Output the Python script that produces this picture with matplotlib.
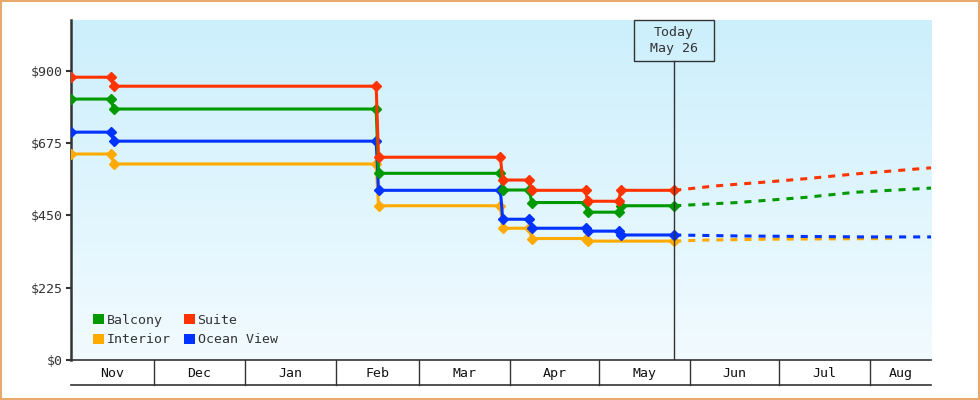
import matplotlib
matplotlib.use("Agg")
import matplotlib.pyplot as plt
import matplotlib.dates as mdates
import matplotlib.transforms as mtransforms
from matplotlib.patches import Rectangle, Patch
import numpy as np
import pandas as pd

# ---------------- data ----------------
hist_dates = ["2024-11-03 00:00", "2024-11-16 15:00", "2024-11-17 10:00",
              "2025-02-14 12:00", "2025-02-15 07:00",
              "2025-03-28 15:00", "2025-03-29 10:00",
              "2025-04-07 11:00", "2025-04-08 06:00",
              "2025-04-26 12:00", "2025-04-27 05:00",
              "2025-05-07 17:00", "2025-05-08 12:00",
              "2025-05-26 14:00"]
balcony = [812, 812, 781, 781, 581, 581, 529, 529, 490, 490, 460, 460, 480, 480]
suite = [880, 880, 852, 852, 631, 631, 560, 560, 528, 528, 494, 494, 528, 528]
ocean = [709, 709, 681, 681, 528, 528, 438, 438, 410, 410, 401, 401, 389, 389]
interior_dates = ["2024-11-03 00:00", "2024-11-16 15:00", "2024-11-17 10:00",
                  "2025-02-14 12:00", "2025-02-15 07:00",
                  "2025-03-28 15:00", "2025-03-29 10:00",
                  "2025-04-07 11:00", "2025-04-08 06:00",
                  "2025-04-26 12:00", "2025-04-27 05:00",
                  "2025-05-26 14:00"]
interior = [641, 641, 610, 610, 480, 480, 410, 410, 378, 378, 370, 370]

# forecasts (dashed)
fc_suite_dates = ["2025-05-26 14:00", "2025-06-10", "2025-06-27", "2025-07-10", "2025-07-27", "2025-08-21 16:00"]
fc_suite = [528, 542, 554, 564, 579, 598]
fc_balcony_dates = ["2025-05-26 14:00", "2025-06-17", "2025-07-10", "2025-07-27", "2025-08-21 16:00"]
fc_balcony = [480, 490, 506, 522, 535]
fc_ocean_dates = ["2025-05-26 14:00", "2025-06-17", "2025-07-30", "2025-08-21 16:00"]
fc_ocean = [389, 386, 383, 383]
fc_interior_dates = ["2025-05-26 14:00", "2025-06-05", "2025-06-28", "2025-08-10"]
fc_interior = [370, 373, 376, 378]

today = "2025-05-26 14:00"
today_label = "Today\nMay 26"

x_start = "2024-11-03 00:00"
x_end = "2025-08-21 16:00"
month_labels = ["Nov", "Dec", "Jan", "Feb", "Mar", "Apr", "May", "Jun", "Jul", "Aug"]
month_starts = ["2024-12-01", "2025-01-01", "2025-02-01", "2025-03-01", "2025-04-01",
                "2025-05-01", "2025-06-01", "2025-07-01", "2025-08-01"]
y_ticks = [0, 225, 450, 675, 900]
y_max = 1058

colors = {"Balcony": "#009900", "Suite": "#ff3300", "Interior": "#ffaa00", "Ocean View": "#0033ff"}

# ---------------- plot ----------------
plt.rcParams['font.family'] = ['DejaVu Sans Mono', 'DejaVu Sans']
FS = 9.5
TXT = "#333333"

fig = plt.figure(figsize=(9.8, 4.0), dpi=100)
fig.patch.set_facecolor("white")
ax = fig.add_axes([71/980, 40/400, 860/980, 340/400])

def d(s):
    return mdates.date2num(pd.to_datetime(s))

def dl(lst):
    return [d(s) for s in lst]

x0, x1 = d(x_start), d(x_end)
ax.set_xlim(x0, x1)
ax.set_ylim(0, y_max)

# gradient background
grad = np.linspace(0, 1, 256).reshape(-1, 1)
top = np.array([204, 239, 252]) / 255
bot = np.array([242, 251, 255]) / 255
img = top[None, None, :] * (1 - grad[:, :, None]) + bot[None, None, :] * grad[:, :, None]
ax.imshow(img, extent=[0, 1, 0, 1], transform=ax.transAxes, aspect='auto', zorder=0)

LW = 2.2
MS = 4.8
series = [("Interior", interior_dates, interior, fc_interior_dates, fc_interior),
          ("Ocean View", hist_dates, ocean, fc_ocean_dates, fc_ocean),
          ("Balcony", hist_dates, balcony, fc_balcony_dates, fc_balcony),
          ("Suite", hist_dates, suite, fc_suite_dates, fc_suite)]
for name, ds, vs, fds, fvs in series:
    c = colors[name]
    ax.plot(dl(fds), fvs, color=c, lw=LW, ls=(0, (2.3, 2.3)), zorder=3)
    ax.plot(dl(ds), vs, color=c, lw=LW, marker='D', ms=MS, zorder=4)

# today line + box
td = d(today)
box_h = 40.7 / 340
btr = mtransforms.blended_transform_factory(ax.transData, ax.transAxes)
ax.plot([td, td], [0, 1 - box_h], color=TXT, lw=1.0, transform=btr, zorder=5)
px_per_day = (ax.transData.transform((x1, 0))[0] - ax.transData.transform((x0, 0))[0]) / (x1 - x0)
half_w = 40.2 / px_per_day
ax.add_patch(Rectangle((td - half_w, 1 - box_h), 2 * half_w, box_h, transform=btr,
                       facecolor='none', edgecolor=TXT, lw=1.0, clip_on=False, zorder=6))
ax.text(td, 1 - box_h / 2, today_label, transform=btr, ha='center', va='center',
        fontsize=FS, color=TXT, linespacing=1.35, zorder=7)

# spines
for s in ["top", "right"]:
    ax.spines[s].set_visible(False)
ax.spines["left"].set_color(TXT)
ax.spines["left"].set_linewidth(1.8)
ax.spines["bottom"].set_color(TXT)
ax.spines["bottom"].set_linewidth(1.2)

# y axis
ax.set_yticks(y_ticks)
ax.set_yticklabels([f"${v}" for v in y_ticks])
ax.tick_params(axis='y', length=3.5, width=1.5, color=TXT, labelcolor=TXT, labelsize=FS, pad=2.5)

# x axis month band
bounds = [x0] + dl(month_starts) + [x1]
mids = [(a + b) / 2 for a, b in zip(bounds[:-1], bounds[1:])]
ax.set_xticks(mids)
ax.set_xticklabels(month_labels)
ax.tick_params(axis='x', length=0, labelcolor="#111111", labelsize=FS, pad=5.0)
band = 25 / 340
for b in dl(month_starts):
    ax.plot([b, b], [0, -band], transform=btr, color=TXT, lw=1.0, clip_on=False, zorder=5)
ax.plot([0, 1], [-band, -band], transform=ax.transAxes, color=TXT, lw=1.2, clip_on=False, zorder=5)

# legend
order = ["Balcony", "Interior", "Suite", "Ocean View"]
handles = [Patch(facecolor=colors[n], edgecolor='none', label=n) for n in order]
leg = ax.legend(handles=handles, ncol=2, loc='lower left', bbox_to_anchor=(0.026, 0.04),
                frameon=False, fontsize=FS, handlelength=0.8, handleheight=0.8,
                handletextpad=0.2, columnspacing=1.05, labelspacing=0.5, borderpad=0,
                borderaxespad=0)
for t in leg.get_texts():
    t.set_color(TXT)

# outer border
fig.add_artist(Rectangle((0.001, 0.002), 0.998, 0.996, transform=fig.transFigure,
                         facecolor='none', edgecolor='#e8a96c', lw=1.5))

fig.savefig("out.png", dpi=100)
